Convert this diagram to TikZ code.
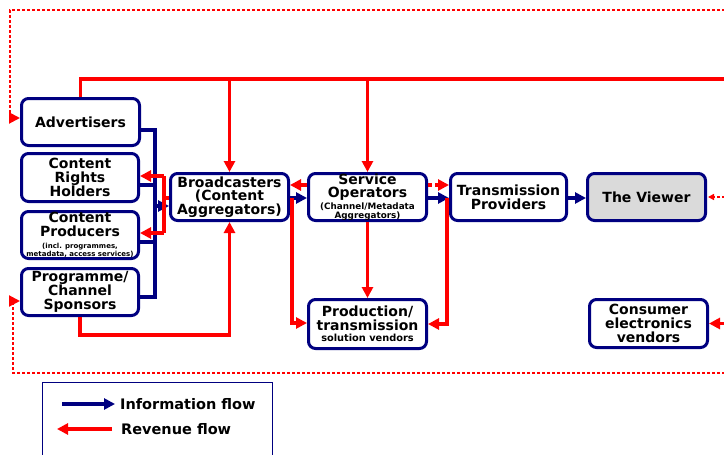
\documentclass[tikz,border=0pt]{standalone}
\usepackage{fontspec}
\setmainfont{DejaVu Sans}
\usetikzlibrary{arrows.meta}
\definecolor{navy}{RGB}{0,0,128}
\definecolor{rev}{RGB}{255,0,0}
\definecolor{viewergray}{RGB}{218,218,218}
\begin{document}
\begin{tikzpicture}[x=1pt,y=-1pt,
  box/.style={draw=navy, line width=3pt, rounded corners=7pt, fill=white,
    align=center, inner sep=0pt, text=black,
    font=\bfseries\fontsize{14}{13.8}\selectfont},
  tip/.style={-{Triangle[length=11pt,width=11pt]}},
  infoline/.style={draw=navy, line width=3.2pt},
  info/.style={infoline, tip},
  revline/.style={draw=rev, line width=3.2pt},
  revenue/.style={revline, tip},
  indirect/.style={draw=rev, line width=2pt, dash pattern=on 3pt off 2pt},
  legendtext/.style={font=\bfseries\fontsize{14.5}{14.5}\selectfont, text=black, inner sep=0pt},
]
\useasboundingbox (0,0) rectangle (724,455);
\clip (0,0) rectangle (724,455);

% ---- boxes ----
\node[box, minimum width=118pt, minimum height=47pt] (adv) at (80.5,122) {Advertisers};
\node[box, minimum width=117pt, minimum height=48pt] (crh) at (80,177.5) {Content\\Rights\\Holders};
\node[box, minimum width=117pt, minimum height=47pt] (cp) at (80,235)
  {Content\\Producers\\[-2pt]{\fontsize{7}{7}\selectfont (incl. programmes,}\\[-6pt]{\fontsize{7}{7}\selectfont metadata, access services)}};
\node[box, minimum width=117pt, minimum height=47pt] (pcs) at (80,292) {Programme/\\Channel\\Sponsors};
\node[box, minimum width=118pt, minimum height=47pt] (bc) at (229.5,197) {Broadcasters\\(Content\\Aggregators)};
\node[box, minimum width=118pt, minimum height=47pt] (so) at (367.5,197)
  {Service\\Operators\\[-2pt]{\fontsize{8.8}{8.8}\selectfont (Channel/Metadata}\\[-5pt]{\fontsize{8.8}{8.8}\selectfont Aggregators)}};
\node[box, minimum width=118pt, minimum height=49pt] (ptv) at (367.5,324)
  {Production/\\transmission\\[-3pt]{\fontsize{9.8}{9.8}\selectfont solution vendors}};
\node[box, minimum width=116pt, minimum height=47pt] (tp) at (508.5,197) {Transmission\\Providers};
\node[box, minimum width=118pt, minimum height=47pt, fill=viewergray] (vw) at (646.5,197) {The Viewer};
\node[box, minimum width=118pt, minimum height=48pt] (cev) at (648.5,323.5) {Consumer\\electronics\\vendors};

% ---- junction points ----
\coordinate (ibus) at (155,206);
\coordinate (rbus) at (164,198);
\coordinate (top) at (80.5,79);
\coordinate (far) at (740,0);

% ---- information flows into the broadcasters ----
\draw[infoline] (adv.east |- 0,130) -| (155,297) -- (pcs.east |- 0,297);
\draw[infoline] (crh.east |- 0,185) -- (155,185);
\draw[infoline] (cp.east |- 0,242) -- (155,242);
\draw[info] (ibus) -- (bc.west |- ibus);

% ---- revenue from broadcasters to rights holders / producers ----
\draw[revline] (bc.west |- rbus) -- (rbus);
\draw[revline] (164,176) -- (164,233);
\draw[revenue] (164,176) -- (crh.east |- 0,176);
\draw[revenue] (164,233) -- (cp.east |- 0,233);

% ---- middle row ----
\draw[info] (bc.east |- 0,198) -- (so.west |- 0,198);
\draw[revenue] (so.west |- 0,185) -- (bc.east |- 0,185);
\draw[info] (so.east |- 0,198) -- (tp.west |- 0,198);
\draw[revline, dash pattern=on 4pt off 3pt, tip] (so.east |- 0,185) -- (tp.west |- 0,185);
\draw[info] (tp.east |- 0,198) -- (vw.west |- 0,198);

% ---- payments to production / transmission vendors ----
\draw[revenue] (292,198) |- (ptv.west |- 0,323);
\draw[revenue] (so.south) -- (ptv.north);
\draw[revenue] (447,198) |- (ptv.east |- 0,324);

% ---- advertising and sponsorship revenue ----
\draw[revline] (adv.north) -- (top) -- (far |- top);
\draw[revenue] (229.5,79) -- (bc.north);
\draw[revenue] (367.5,79) -- (so.north);
\draw[revenue] (pcs.south) |- (229.5,335) -- (bc.south);

% ---- right-hand inflows ----
\draw[revenue] (far |- cev.east) -- (cev.east);
\draw[indirect, -{Triangle[length=6pt,width=6pt]}] (far |- vw.east) -- ([xshift=1pt]vw.east);

% ---- indirect (viewer-funded) revenue loop ----
\draw[indirect, tip] (far |- 0,10) -- (10,10) -- (10,118) -- (adv.west |- 0,118);
\draw[indirect, tip] (far |- 0,373) -- (13,373) -- (13,301) -- (pcs.west |- 0,301);

% ---- legend ----
\draw[navy, line width=0.9pt] (42,470) -- (42,382) -- (272,382) -- (272,470);
\node[legendtext, anchor=west] (infolbl) at (120,404) {Information flow};
\node[legendtext, anchor=west] (revlbl) at (121,429) {Revenue flow};
\coordinate (infostart) at (62,404);
\coordinate (revstart) at (112,429);
\draw[info] (infostart) -- ([xshift=-5pt]infolbl.west);
\draw[revenue] (revstart) -- (57,429);
\end{tikzpicture}
\end{document}
